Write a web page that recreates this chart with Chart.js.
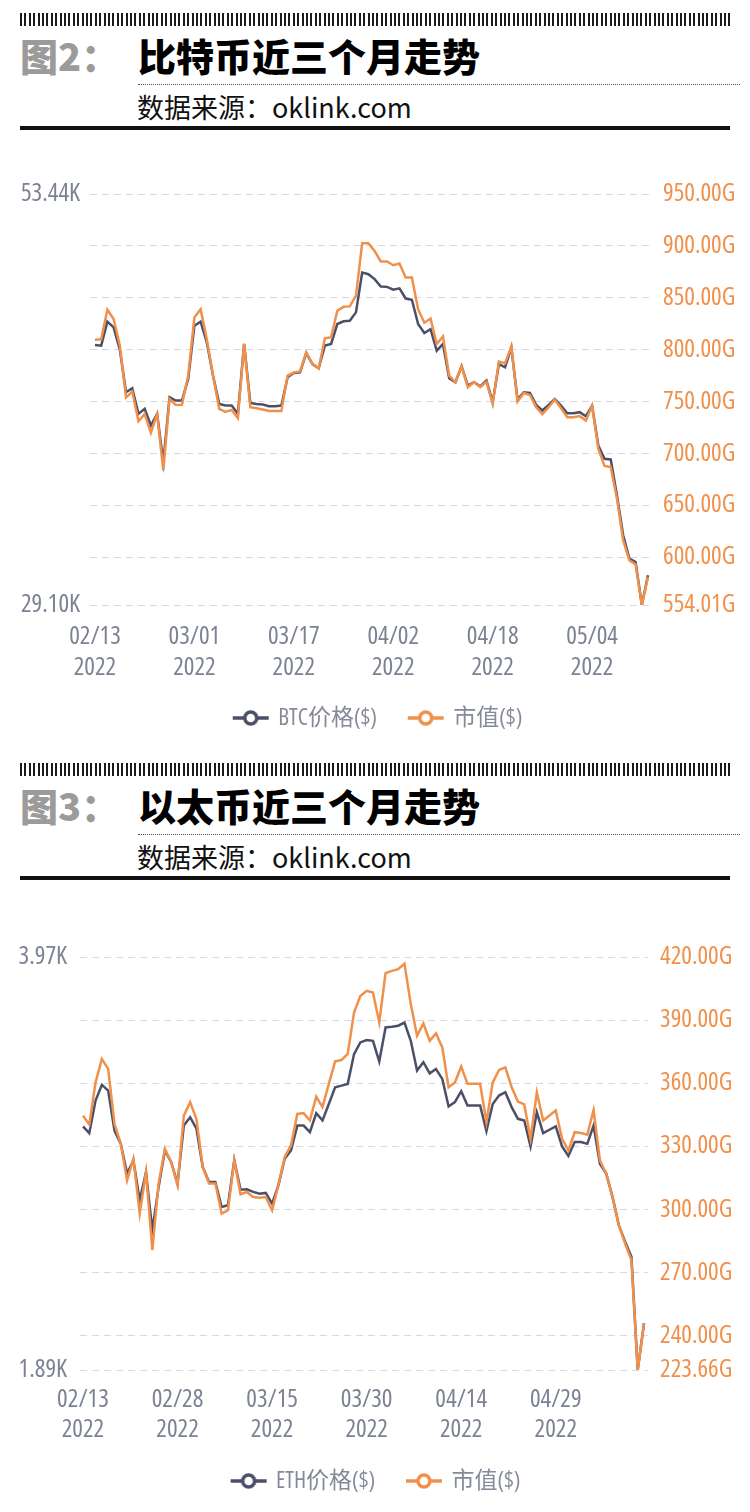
<!DOCTYPE html>
<html><head><meta charset="utf-8">
<script src="https://cdn.jsdelivr.net/npm/chart.js@4.4.1/dist/chart.umd.min.js"></script>
<style>
html,body{margin:0;padding:0;background:#fff;width:750px;height:1512px;overflow:hidden;}
body{position:relative;}
.stripes{position:absolute;left:20px;width:710px;height:13px;background:repeating-linear-gradient(90deg,#1a1a1a 0 2px,transparent 2px 4.4px);}
.fig{position:absolute;left:20px;font-family:'Noto Sans CJK SC';font-weight:900;font-size:38px;color:#9b9b9b;line-height:38px;white-space:nowrap;}
.title{position:absolute;left:138px;font-family:'Noto Sans CJK SC';font-weight:900;font-size:38px;color:#000;line-height:38px;white-space:nowrap;}
.dots{position:absolute;left:138px;width:602px;border-top:1px dotted #555;}
.src{position:absolute;left:137px;font-family:'Noto Sans CJK SC';font-size:27px;color:#111;line-height:27px;white-space:nowrap;}
.rule{position:absolute;left:20px;width:710px;height:4px;background:#111;}
canvas{position:absolute;left:0;}
</style></head>
<body>
<div class="stripes" style="top:13px"></div>
<div class="fig" style="top:36px">图2：</div>
<div class="title" style="top:36px">比特币近三个月走势</div>
<div class="dots" style="top:84px"></div>
<div class="src" style="top:93px">数据来源：oklink.com</div>
<div class="rule" style="top:126px"></div>
<canvas id="c1" width="750" height="610" style="top:140px"></canvas>

<div class="stripes" style="top:763px"></div>
<div class="fig" style="top:786px">图3：</div>
<div class="title" style="top:786px">以太币近三个月走势</div>
<div class="dots" style="top:834px"></div>
<div class="src" style="top:843px">数据来源：oklink.com</div>
<div class="rule" style="top:876px"></div>
<canvas id="c2" width="750" height="622" style="top:890px"></canvas>

<script>
const dates = ['02/13','02/14','02/15','02/16','02/17','02/18','02/19','02/20','02/21','02/22','02/23','02/24','02/25','02/26','02/27','02/28',
'03/01','03/02','03/03','03/04','03/05','03/06','03/07','03/08','03/09','03/10','03/11','03/12','03/13','03/14','03/15','03/16','03/17','03/18','03/19','03/20','03/21','03/22','03/23','03/24','03/25','03/26','03/27','03/28','03/29','03/30','03/31',
'04/01','04/02','04/03','04/04','04/05','04/06','04/07','04/08','04/09','04/10','04/11','04/12','04/13','04/14','04/15','04/16','04/17','04/18','04/19','04/20','04/21','04/22','04/23','04/24','04/25','04/26','04/27','04/28','04/29','04/30',
'05/01','05/02','05/03','05/04','05/05','05/06','05/07','05/08','05/09','05/10','05/11','05/12','05/13'];
const year = '2022';

// BTC (left axis, K) and market cap (right axis, G)
const btcPrice = [44.50,44.46,45.88,45.54,44.22,41.70,41.94,40.42,40.72,39.73,
40.42,37.56,41.40,41.21,41.21,42.49,45.64,45.88,44.65,42.68,
41.01,40.91,40.91,40.42,44.56,41.07,41.01,40.97,40.87,40.87,
40.91,42.59,42.84,42.88,44.02,43.37,43.12,44.46,44.56,45.74,
45.90,45.93,46.43,48.79,48.69,48.40,47.96,47.94,47.77,47.85,
47.25,47.18,45.74,45.21,45.44,44.16,44.56,42.53,42.29,43.24,
42.09,42.29,42.05,42.39,41.11,43.37,43.18,44.36,41.27,41.70,
41.66,40.95,40.62,40.95,41.30,40.91,40.46,40.46,40.52,40.28,
40.91,38.55,37.76,37.72,35.59,33.23,31.85,31.65,29.10,30.86];
const btcCap = [809.6,810,838.5,829.5,804,754,759.6,731,738,720,
738,683.7,752.6,746.8,747,775,831,839,810,775,
743,740,742,734,805.4,744.6,743.6,742.3,741,741,
741,775,778,779,797.4,786,782,811,812,837.5,
841.3,841.7,852,902.6,902.6,895,885,885,881.4,883,
869.6,869.6,839,826,830,805.4,812.8,775,768.6,784,
763.8,768.6,764,769,747.8,788.5,787,803,750,758.3,
756.4,744.6,738,744.6,752,743.6,735,735,736,731.7,
746,704.5,688,687,656.4,616.3,597,593,554.01,581];
const btcLeftTicks = [29.10, 53.44];
const btcRightTicks = [554.01, 600, 650, 700, 750, 800, 850, 900, 950];
const btcXTicks = [0, 16, 32, 48, 64, 80];

// ETH (left axis, K) and market cap (right axis, G)
const ethPrice = [3.117,3.083,3.247,3.326,3.297,3.096,3.029,2.879,2.946,2.745,
2.887,2.594,2.812,2.996,2.937,2.829,3.121,3.163,3.105,2.912,
2.837,2.837,2.711,2.720,2.946,2.798,2.800,2.787,2.778,2.782,
2.728,2.820,2.954,2.996,3.121,3.121,3.088,3.183,3.147,3.230,
3.314,3.322,3.331,3.481,3.540,3.552,3.548,3.444,3.615,3.619,
3.624,3.640,3.548,3.398,3.440,3.384,3.406,3.356,3.217,3.239,
3.294,3.222,3.222,3.222,3.093,3.230,3.272,3.289,3.214,3.155,
3.147,3.016,3.188,3.083,3.100,3.117,3.016,2.968,3.038,3.038,
3.029,3.121,2.929,2.879,2.762,2.619,2.536,2.460,1.890,2.126];
const ethCap = [344.6,340.4,360.4,371.5,366.8,340.7,331.2,313.8,324.1,298,
317.8,280.7,312.3,328.8,322.5,311.5,344.6,351,343,320.2,
312.3,312.3,298,299.6,323.3,307.2,308.3,305.9,305.6,305.9,
299.6,311.5,324.9,330.4,345.4,345.8,342.3,353.6,348.6,359.7,
370.4,371,373.9,393.6,401.5,403.9,403.1,388.9,412.3,413.4,
414.2,416.8,397.6,382.6,388.4,380.2,383.7,377,358.1,360.4,
367.9,359.7,359.7,359.7,341.5,360.4,366.3,367.5,358.1,351.3,
349.9,333.6,355.7,342.3,344.6,347,333.6,328.1,336.7,336.3,
335.5,347.3,323.3,317,305.9,292.5,283.8,275.9,223.66,245.9];
const ethLeftTicks = [1.89, 3.97];
const ethRightTicks = [223.66, 240, 270, 300, 330, 360, 390, 420];
const ethXTicks = [0, 15, 30, 45, 60, 75];

const FONT = "'Open Sans','Noto Sans CJK SC',sans-serif";
const STRETCH = 'condensed';
const FS = 25;
const LFS = 23;
const GRAY = '#7c8293';
const ORANGE = '#f0904b';
const NAVY = '#4b5068';

function icon(color){
  const c = document.createElement('canvas'); c.width = 38; c.height = 18;
  const x = c.getContext('2d');
  x.strokeStyle = color; x.lineWidth = 3.5;
  x.beginPath(); x.moveTo(1, 9); x.lineTo(37, 9); x.stroke();
  x.beginPath(); x.arc(19, 9, 6, 0, Math.PI * 2); x.fillStyle = '#fff'; x.fill(); x.stroke();
  return c;
}

function makeChart(id, o){
  const icons = [icon(NAVY), icon(ORANGE)];
  const f = { family: FONT, size: FS, weight: STRETCH };
  return new Chart(document.getElementById(id), {
    type: 'line',
    data: { datasets: [
      { label: o.priceLabel, data: o.price.map((v,i)=>({x:i,y:v})), yAxisID:'yL', borderColor: NAVY, borderWidth: 2.5, pointRadius: 0, tension: 0, order: 2 },
      { label: '市值($)', data: o.cap.map((v,i)=>({x:i,y:v})), yAxisID:'yR', borderColor: ORANGE, borderWidth: 2.5, pointRadius: 0, tension: 0, order: 1 }
    ]},
    options: {
      responsive: false, animation: false, devicePixelRatio: 1,
      layout: { padding: { top: o.padTop, bottom: o.padBottom, left: o.padLeft, right: 0 } },
      plugins: {
        tooltip: { enabled: false },
        legend: {
          position: 'bottom',
          labels: {
            usePointStyle: true, pointStyleWidth: 32, padding: 20,
            font: { family: FONT, size: LFS, weight: STRETCH }, color: '#858a98',
            generateLabels: (chart) => chart.data.datasets.map((ds, i) => ({
              text: ds.label + (i === 0 ? '\u00a0\u00a0\u00a0' : ''), pointStyle: icons[i], datasetIndex: i, hidden: false,
              fontColor: '#858a98', lineWidth: 0, strokeStyle: 'rgba(0,0,0,0)', fillStyle: 'rgba(0,0,0,0)'
            }))
          }
        }
      },
      scales: {
        x: {
          type: 'linear', min: o.xMin, max: o.xMax,
          grid: { display: false, drawTicks: false }, border: { display: false },
          afterBuildTicks: (s) => { s.ticks = o.xTicks.map(v => ({ value: v })); },
          afterFit: (s) => { s.height = o.xHeight; },
          ticks: { autoSkip: false, maxRotation: 0, padding: o.xPad, color: GRAY,
            font: { family: FONT, size: FS, weight: STRETCH, lineHeight: o.xLine },
            callback: (v) => [dates[v], year] }
        },
        yL: {
          type: 'linear', position: 'left', min: o.leftTicks[0], max: o.leftTicks[o.leftTicks.length-1],
          grid: { display: false, drawTicks: false }, border: { display: false },
          afterBuildTicks: (s) => { s.ticks = o.leftTicks.map(v => ({ value: v })); },
          afterFit: (s) => { s.width = o.leftW; },
          ticks: { autoSkip: false, padding: o.leftPad, color: GRAY, font: f,
            callback: (v) => v.toFixed(2) + 'K' }
        },
        yR: {
          type: 'linear', position: 'right', min: o.rightTicks[0], max: o.rightTicks[o.rightTicks.length-1],
          grid: { display: true, drawTicks: false, color: '#d6d9e2', lineWidth: 1 },
          border: { display: false, dash: [7, 5] },
          afterBuildTicks: (s) => { s.ticks = o.rightTicks.map(v => ({ value: v })); },
          afterFit: (s) => { s.width = o.rightW; },
          ticks: { autoSkip: false, padding: o.rightPad, color: ORANGE, font: f,
            callback: (v) => v.toFixed(2) + 'G' }
        }
      }
    }
  });
}

makeChart('c1', {
  priceLabel: 'BTC价格($)', price: btcPrice, cap: btcCap,
  leftTicks: btcLeftTicks, rightTicks: btcRightTicks, xTicks: btcXTicks,
  xMin: -0.8, xMax: 89.64, padTop: 54, padBottom: 10.5, padLeft: 7, xHeight: 81.5, xPad: 16.5, xLine: 1.24,
  leftW: 83, rightW: 98, leftPad: 10, rightPad: 11
});
makeChart('c2', {
  priceLabel: 'ETH价格($)', price: ethPrice, cap: ethCap,
  leftTicks: ethLeftTicks, rightTicks: ethRightTicks, xTicks: ethXTicks,
  xMin: -0.47, xMax: 89.63, padTop: 67, padBottom: 9.5, padLeft: 3, xHeight: 79.5, xPad: 15, xLine: 1.2,
  leftW: 77, rightW: 102, leftPad: 13, rightPad: 12
});
</script>
</body></html>
